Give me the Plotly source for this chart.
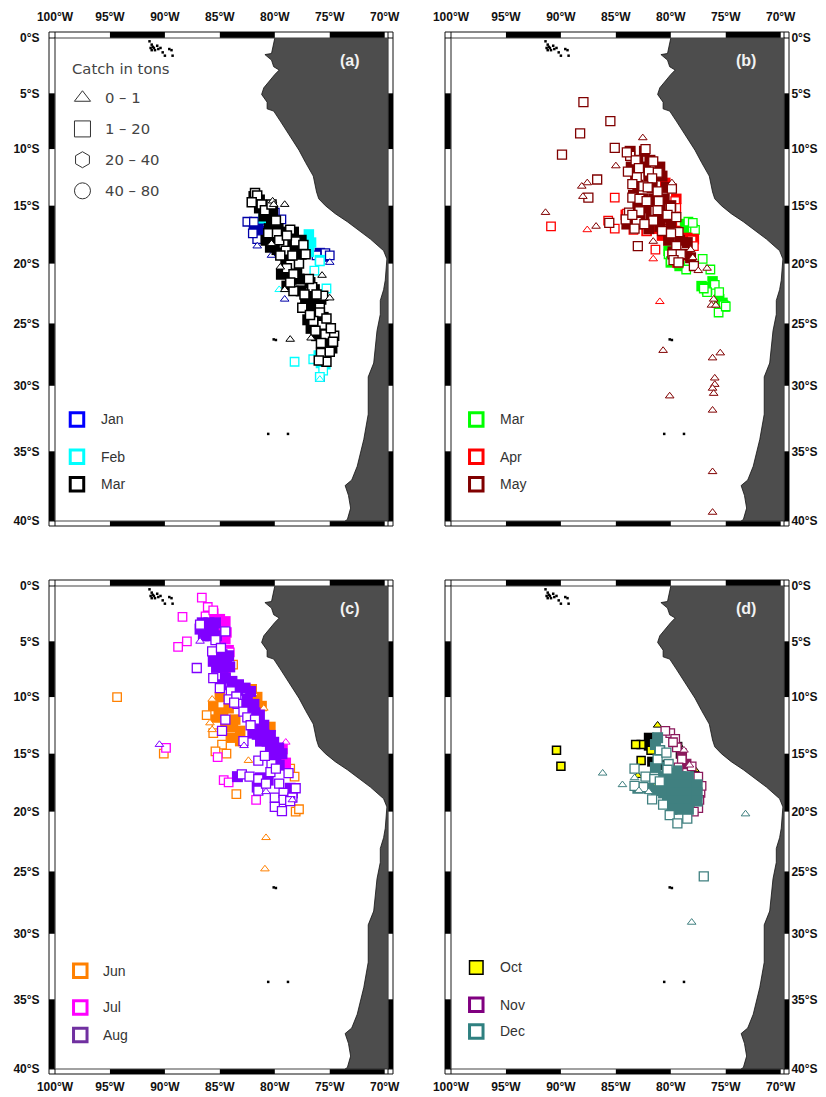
import math
import plotly.graph_objects as go

W, H = 826, 1097
LON_TICKS = [100, 95, 90, 85, 80, 75, 70]
LAT_TICKS = [0, 5, 10, 15, 20, 25, 30, 35, 40]

# Coast of South America, (deg W, deg S)
COAST = [(80.0,0),(80.1,.6),(80.3,1.4),(80.9,1.5),(80.3,2.0),(80.1,2.6),(79.6,2.9),(80.0,3.3),(80.4,3.75),(81.0,4.5),
 (81.2,5.1),(80.7,5.8),(80.7,6.4),(80.1,6.6),(79.5,7.5),(78.9,8.4),(78.3,9.3),(77.8,10.1),(77.2,11.2),(76.5,12.4),
 (76.2,13.8),(76.0,14.4),(75.4,15),(74.5,15.7),(73.4,16.4),(72.2,17.3),(71.3,17.9),(70.1,18.9),(69.8,19.6),(69.95,21.4),
 (70.1,22.2),(70.4,23.1),(70.4,24.25),(70.7,25.6),(71.0,28.2),(71.5,29.3),(71.5,30.6),(71.5,32.2),(71.9,34.1),(72.5,36.1),
 (73,37.1),(73.6,37.5),(73.3,38.2),(73.1,39.1),(73.4,39.9),(73.6,40),(69.0,40),(69.0,0)]
ISLANDS = [(91.4,.3),(91.2,.6),(91.0,.9),(91.2,1.1),(90.7,.7),(90.4,.9),(90.2,1.3),(89.6,1.0),(89.4,1.1),(90.0,1.6),
 (89.3,1.6),(91.1,.8),(90.9,1.1),(91.3,.9),(90.6,1.0),(80.1,26.3),(79.9,26.35),(80.6,33.7),(78.8,33.7)]

# Panel (a): white squares, solid overlap masses, triangles
JAN_SQ = [(82.5,16.4),(81.9,16.4),(80,15.6),(75.4,19.1),(75,19.3),(75.9,29.3),(81.6,17.9),(76.2,19.3),(80.8,15.9),(82,17.4),(79.4,16.2)]
JAN_SOLID = [(81.6,16.9),(81.9,17.2),(81,16.2),(75.9,19.1),(75.5,19.4),(81.2,17.5),(81.5,16.6),(81.4,17.2)]
JAN_TRI = [(80.3,19.3),(79.1,23),(75,19.9),(81.6,18.5)]
FEB_SQ = [(75.9,19.8),(76.4,20.6),(78.2,28.1),(76.5,27.9),(75.6,28.8),(75.9,29.3),(75.3,22.1),(76,22.7)]
FEB_SOLID = [(76.9,17.5),(76.7,18.2),(76.9,19),(75.9,19.7),(81,16.1),(80.4,16.5),(76,27.6),(75.8,28.2),(75.4,28.3)]
FEB_TRI = [(79.6,22.2),(75.9,29.5)]
MAR_SOLID = [(81.4,14.5),(80.7,15),(80.2,15.5),(81,15.9),(80.5,17),(79.7,17),(79,17.3),(78.3,17.3),(80,18),(79.2,18),
 (78.4,18),(79.8,18.8),(79,18.9),(78.2,18.9),(79,19.7),(78.2,19.7),(78.7,20.5),(78,20.5),(78.5,21.3),(77.8,21.3),
 (76.8,21.6),(76.4,22.2),(76.4,23),(75.8,23),(76.7,23.7),(76,24),(75.6,24.5),(76.4,24.6),(75.8,25.2),(75.2,25.5),
 (75.6,26),(74.9,26.2),(75.2,26.9),(74.8,27),(75.5,27.6),(81.9,14.2),(81.4,15.2),(80.3,16.2),(80.8,18),(80.4,18.6),
 (77.6,18),(77.6,19.2),(79.4,20.9),(78.9,21.9),(77.6,22.3),(77.2,23),(77,24.7),(76.2,26),(75.6,27),(76.7,25.4)]
MAR_SQ = [(81.8,13.9),(81.6,14.1),(82.1,14.7),(81.2,14.9),(80.9,15.4),(79.9,16.3),(80.6,17.4),(79.8,17.4),(78.6,17.1),
 (78.1,18.1),(79.2,18.3),(77.4,18.4),(79.0,18.9),(78.6,20.1),(77.8,20.0),(78.9,20.4),(78.3,20.9),(78.3,22.3),(76.6,22.0),
 (75.6,22.7),(77.5,23.7),(75.9,23.7),(75.9,24.1),(75.7,25.1),(76.3,25.6),(75.4,25.9),(74.6,26),(74.7,26.5),(75.8,27.4),
 (75,27.3),(75.3,28.1),(76.5,24.8),(80.3,14.9),(79.6,18),(78.9,17.6),(79.5,19.3),(78.4,19.3),(77.2,19.2),(78.6,21.6),
 (76.9,21.3),(76.2,22.6),(76.8,24.3),(75.3,24.6),(75.8,26.6),(76,28),(74.9,25.4),(77.3,22.6)]
MAR_TRI = [(80.2,14.6),(79.1,14.9),(80.3,18.3),(79.5,20.3),(75.7,21),(79.1,22.2),(78.6,26.3),(76.7,26.2),(75,22.9),(80.1,14.9)]

# Panel (b)
BMAR_SOLID = [(78.7,16.6),(78.4,17),(77.2,21.9),(76.9,22),(76.7,22.2),(75.3,23.3),(75.1,23.6),(80,19.9),(79.2,20.2),(80.2,18.9),(75.6,23),(76.2,21.5)]
BMAR_SQ = [(78.4,16.4),(78,17),(77.8,17.1),(77.1,19.6),(76.4,20.5),(76,21.8),(75.6,22.4),(76.7,22.4),(75.2,23.5),(75.65,24.1),
 (75,23.6),(78.6,20.5),(79.3,20),(80.2,19.2),(80,19.8),(78,16.5),(77,22.1)]
APR_SOLID = [(79.9,16.6),(79.6,17.2),(78.5,17.8),(78.1,18.2),(78.5,19.3),(80.5,13),(81.2,17),(82.2,17.2),(79.5,14.4),(79.6,15.3),(79.4,19.9),
 (77.9,17.9),(80.8,17.6),(84.1,15.8)]
APR_SQ = [(90.9,16.8),(85.1,14.3),(85.7,16.3),(85.1,17),(81.4,18.8),(84,15.7),(83.4,17.1),(79.6,14.6),(79.5,15.2),(78.1,18),
 (77.9,18.5),(82.2,17.2),(80.7,17)]
APR_TRI = [(81,23.2),(81.6,19.6),(87.6,17.1)]
MAY_SOLID = [(83.7,10.2),(82.4,10.2),(83,11),(81.9,11),(83.6,11.6),(82.3,11.6),(81,11.6),(83.2,12.4),(82,12.4),(80.8,12.4),
 (83,13.2),(81.7,13.4),(80.4,13.4),(83.4,14.1),(82.5,14.4),(81.5,14.4),(80.6,14.4),(83,15),(82,15.2),(81,15.2),(80,15),
 (83.7,15.9),(82.8,16),(81.8,16),(80.8,16),(84,16.6),(83,16.6),(82,17),(81,16.8),(80,16.6),(79.5,17.3),(80.2,18),(79.2,18),
 (78.5,18.2),(79.8,19),(78.8,19.2),(78.2,19.5),(79.3,19.6)]
MAY_SQ = [(87.95,5.8),(85.5,7.5),(88.25,8.6),(89.9,10.5),(85.1,9.9),(82.3,10),(83.7,10.6),(83.2,11),(82.9,11.7),(81.6,11.1),
 (81.2,12.1),(82,12),(83.1,12.5),(81.7,12.6),(86.7,12.7),(83.5,13.1),(82.5,13.3),(81.2,13.75),(79.9,13.5),(87.5,14.3),
 (83.5,14.3),(82.85,14.4),(82.2,14.6),(81.1,14.6),(80,15.2),(82.85,15.5),(81.4,15.45),(80.3,15.8),(85.6,16.5),(83.1,16.4),
 (81.6,16.3),(80.8,17.2),(79.3,17.3),(79.98,17.4),(83.3,17),(79.5,18.5),(83,18.5),(79.85,19.2),(79.1,19.2),(79.75,19.7),
 (79.3,19.9),(77.9,20.2),(79.5,16),(84,10.3),(83.9,12),(82.1,13.4),(83.8,15.6),(82.4,16.6),(81.2,15.4),(84.1,16.2),(83.5,15.8)]
MAY_TRI = [(82.55,9),(85,11.5),(87.6,13),(91.4,15.6),(86.8,16.8),(81.6,18.1),(79.9,13),(78.2,18.8),(78,19.5),(77.5,20.6),
 (76.7,20.4),(76.1,23),(76.3,23.5),(75.9,23.5),(80.7,27.2),(80.1,30.8),(76.2,27.8),(75.5,27.4),(76,29.4),(76,29.9),(76.2,30.2),
 (76.1,30.6),(76.2,31.9),(76.2,36.5),(76.2,39.4),(88.1,13.3),(88,14.2)]

# Panel (c)
JUN_SOLID = [(85.6,10.8),(85.1,11.4),(85.4,12),(84.7,11.4),(85,10),(84.7,12.65),(83.8,12.65),(83.15,13),(84,13.6),(83.15,13.9),
 (82.1,9.3),(81.6,10),(81.2,10.8),(80.4,12.65),(84.2,11),(83.6,12)]
JUN_SQ = [(86.2,11.6),(94.35,10),(90.1,15),(84.4,15),(83.5,18.5),(78.1,20),(77.8,19.8),(83.8,7.1),(85.3,12.6),(85.6,13.2),(84.8,14.2),
 (78.6,16.3),(78.2,17),(85.4,14.8)]
JUN_TRI = [(82.4,15.6),(85.7,10.2),(85.9,12.3),(85.7,12.9),(80.8,22.2),(80.9,24.8),(81.9,9.7),(81,11)]
JUL_SOLID = [(85.6,2.5),(85,3),(84.5,4.8),(84.2,5.8),(85.3,3.2),(84.7,3.9),(84.5,8.2),(79.3,14.6),(79,15.8),(84.5,3.2),(84.4,4.2)]
JUL_SQ = [(86.64,1.05),(86.1,1.9),(88.4,2.8),(88,5),(88.8,5.5),(86.3,2.75),(89.9,14.5),(85.2,15.3),(84.65,17.3),(81.7,19),
 (84.2,17.5),(84.1,6),(85.6,6.4),(85.6,2.2)]
JUL_TRI = [(79,14)]
AUG_SOLID = [(86.6,3.33),(86,3.33),(85.4,3.33),(86.8,3.9),(86.2,3.9),(85.6,3.9),(86.5,4.5),(85.9,4.5),(85.3,4.5),
 (85.4,6.2),(84.8,6.2),(84.2,6.3),(85.6,6.8),(85,6.8),(84.4,6.8),(85.3,7.35),(84.7,7.35),(84.1,7.3),
 (84.5,8.3),(83.9,8.6),(83.3,8.9),(82.7,9.2),(83.4,9.4),(82.5,10.2),(81.9,10.65),(82.7,11),(81.8,11.4),
 (81.6,12.65),(81,12.5),(81.6,13.3),(81,13.3),(80.4,13.4),(81.3,13.9),(80.7,13.9),(80.1,14),(79.65,14.5),(80.4,14.5),(79.35,15),
 (80,15.3),(81.3,17.1),(80.6,17.3),(78.6,18),(79.6,16),(84.9,8.9),(82.2,9.5),(81.4,11.6),(82,13.2),(79.9,15.8),(83.4,17),(81.6,17.9),(78.4,18.4)]
AUG_SQ = [(84.5,4.1),(85.7,5.9),(87.1,7.4),(85.6,8.3),(85,9.2),(84,9.5),(84.2,10.2),(83.5,9.95),(84.5,12),(84.8,13),
 (83.4,10.6),(82.85,11.3),(82.5,11.8),(81.8,12),(82.85,13.9),(81.5,15.6),(80.3,15.9),(80.4,16.6),(83,16.8),(82.3,17),
 (81.5,17.2),(78.75,16.7),(79.6,17.6),(81.5,18.2),(80.8,17.6),(78.1,18),(80,18.8),(79.2,18.4),(79.2,19),(78.4,18.8),
 (80,19.6),(79.35,19.95),(78.6,19.1),(86.8,3.5),(85.4,4.9),(84.9,5.6),(83.7,10.5),(82.2,12.5),(80.9,15.2),(79.9,16.3)]
AUG_TRI = [(90.5,14.2),(80.8,18.3),(78.4,19),(86.8,5),(82.8,14.3)]

# Panel (d)
OCT_SOLID = [(81,16),(81.7,15.7),(82,13.6),(82,14.3),(79.1,15),(79.4,14.4)]
OCT_SQ = [(90.4,14.7),(90,16.1),(82.7,14.2),(83.2,14.2),(82.7,15.6),(81.8,14.7),(81.3,17.7)]
OCT_TRI = [(81.2,12.5),(77.8,16.4),(79.3,14.2),(83,16.9)]
NOV_SQ = [(80.05,13.2),(79.6,13.7),(79.45,14.45),(79,15.5),(78.1,16.1),(77.5,17),(77.3,18.4),(77.5,19.7),(79.3,16.2),(80.5,13),
 (79.8,14),(77.2,17.8),(77.4,19),(77.9,20)]
NOV_SOLID = [(79,15),(78.6,15.9)]
NOV_TRI = [(78.8,14.7),(78.3,16)]
DEC_SOLID = [(80.66,17),(79.9,17),(79.14,17),(78.4,17),(80.66,17.7),(79.9,17.7),(79.14,17.7),(78.4,17.7),(77.6,17.7),
 (80.66,18.4),(79.9,18.4),(79.14,18.4),(78.4,18.4),(77.6,18.4),(80.3,19.1),(79.9,19.1),(79.14,19.1),(78.4,19.1),(77.6,19.1),
 (79.9,19.8),(79.14,19.8),(78.4,19.8),(81.4,14.2),(81,14.75),(81.4,16.2),(80.35,16.2),(79.45,16.5),(83,18),(82,18),(81.3,18.2),
 (81.2,13.6)]
DEC_SQ = [(83.3,16.3),(82.3,17),(81.5,17.2),(81.2,15.5),(81,14.7),(80.4,14.9),(80.2,15.9),(81.7,18.95),(80.7,19.4),(80.1,20.3),
 (79.4,21),(78.5,20.6),(82.5,17.9),(77,25.4),(83.3,17.8),(81,17.4),(80.3,16.4)]
DEC_TRI = [(86.2,16.7),(84.4,17.7),(73.2,20.2),(83.3,17.1),(82.9,18.2),(82,18.3),(78.1,29.1)]

# Legend keys and labels, (deg W, deg S)
SIZE_LABELS = ["0 – 1", "1 – 20", "20 – 40", "40 – 80"]
SIZE_KEY_LAT = [5.4, 8.2, 10.95, 13.7]
PANEL_TAGS = ["(a)", "(b)", "(c)", "(d)"]
MONTHS = [["Jan","Feb","Mar"],["Mar","Apr","May"],["Jun","Jul","Aug"],["Oct","Nov","Dec"]]
MONTH_COLORS = [["#0000ff","#00ffff","#000000"],["#00ff00","#ff0000","#800000"],["#ff8000","#ff00ff","#7030a0"],["#ffff00","#800080","#2f8080"]]
MONTH_KEY_LAT = [[32.6,35.4,37.4],[32.6,35.4,37.4],[32.85,35.6,37.6],[32.6,35.4,37.35]]
MONTH_KEY_LON = [98.0,97.7,97.7,97.7]
MONTH_TEXT_LON = [96.0,95.7,95.8,95.7]

def merc(lat):
    return math.degrees(math.log(math.tan(math.radians(45 + lat / 2))))

def xs(p): return [-a for a, _ in p]
def ys(p): return [-merc(b) for _, b in p]

PANELS = [(55, 38), (451, 38), (55, 586), (451, 586)]
PW, PH = 333, 483
RIGHT = -69.7
BOTTOM = -merc(40)

fig = go.Figure()
shapes, annos = [], []
layout = {}

def px(x): return x / W
def py(y): return 1 - y / H

TICK_FONT = dict(family="Liberation Sans", size=12, color="#111", weight="bold")

for i, (x0, y0) in enumerate(PANELS):
    sfx = "" if i == 0 else str(i + 1)
    lower, righty = i >= 2, i % 2 == 1
    layout["xaxis" + sfx] = dict(domain=[px(x0), px(x0 + PW)], range=[-100, RIGHT], anchor="y" + sfx, automargin=False,
        side="bottom" if lower else "top", tickvals=[-v for v in LON_TICKS], ticktext=[f"{v}°W" for v in LON_TICKS],
        ticks="outside", ticklen=7 if lower else 11, tickcolor="rgba(0,0,0,0)", showgrid=False, zeroline=False, showline=False,
        tickfont=TICK_FONT, fixedrange=True)
    layout["yaxis" + sfx] = dict(domain=[py(y0 + PH), py(y0)], range=[BOTTOM, 0], anchor="x" + sfx, automargin=False,
        side="right" if righty else "left", tickvals=[-merc(v) for v in LAT_TICKS], ticktext=[f"{v}°S" for v in LAT_TICKS],
        ticks="outside", ticklen=4 if righty else 12, tickcolor="rgba(0,0,0,0)", showgrid=False, zeroline=False, showline=False,
        tickfont=TICK_FONT, fixedrange=True)
    xa, ya = "x" + sfx, "y" + sfx
    fig.add_trace(go.Scatter(x=xs(COAST), y=ys(COAST), mode="lines", fill="toself", fillcolor="#4d4d4d",
        line=dict(color="#111", width=0.8), xaxis=xa, yaxis=ya, hoverinfo="skip"))
    fig.add_trace(go.Scatter(x=xs(ISLANDS), y=ys(ISLANDS), mode="markers", marker=dict(symbol="square", size=2.5, color="#000"),
        xaxis=xa, yaxis=ya, hoverinfo="skip"))
    # frame
    ox0, oy0, ox1, oy1 = x0 - 6, y0 - 6, x0 + PW + 5, y0 + PH + 5
    shapes.append(dict(type="rect", xref="paper", yref="paper", x0=px(ox0), x1=px(ox1), y0=py(oy1), y1=py(oy0),
        line=dict(color="#111", width=1), layer="above"))
    for a, b in [(95, 90), (85, 80), (75, 70)]:
        for t0, t1 in [(oy0, y0), (y0 + PH, oy1)]:
            shapes.append(dict(type="rect", xref=xa, yref="paper", x0=-a, x1=-b, y0=py(t1), y1=py(t0),
                fillcolor="#000", line_width=0, layer="above"))
    for a, b in [(5, 10), (15, 20), (25, 30), (35, 40)]:
        for t0, t1 in [(ox0, x0), (x0 + PW, ox1)]:
            shapes.append(dict(type="rect", xref="paper", yref=ya, x0=px(t0), x1=px(t1), y0=-merc(b), y1=-merc(a),
                fillcolor="#000", line_width=0, layer="above"))
    shapes.append(dict(type="rect", xref="paper", yref="paper", x0=px(x0), x1=px(x0 + PW), y0=py(y0 + PH), y1=py(y0),
        line=dict(color="#444", width=1.2), layer="above"))
    for sx in (x0, x0 + PW):
        for a, b in [(oy0, y0), (y0 + PH, oy1)]:
            shapes.append(dict(type="line", xref="paper", yref="paper", x0=px(sx), x1=px(sx), y0=py(a), y1=py(b),
                line=dict(color="#111", width=1), layer="above"))
    for sy in (y0, y0 + PH):
        for a, b in [(ox0, x0), (x0 + PW, ox1)]:
            shapes.append(dict(type="line", xref="paper", yref="paper", x0=px(a), x1=px(b), y0=py(sy), y1=py(sy),
                line=dict(color="#111", width=1), layer="above"))

def add_series(panel, color, sq, solid, tri, sq_size=8.5, lw=1.3, fill="#ffffff", tri_fill="#ffffff"):
    sfx = "" if panel == 0 else str(panel + 1)
    xa, ya = "x" + sfx, "y" + sfx
    if solid:
        fig.add_trace(go.Scatter(x=xs(solid), y=ys(solid), mode="markers", xaxis=xa, yaxis=ya, hoverinfo="skip",
            marker=dict(symbol="square", size=sq_size + 2, color=color, line=dict(color=color, width=0))))
    if sq:
        fig.add_trace(go.Scatter(x=xs(sq), y=ys(sq), mode="markers", xaxis=xa, yaxis=ya, hoverinfo="skip",
            marker=dict(symbol="square", size=sq_size, color=fill, line=dict(color=color, width=lw))))
    if tri:
        fig.add_trace(go.Scatter(x=xs(tri), y=ys(tri), mode="markers", xaxis=xa, yaxis=ya, hoverinfo="skip",
            marker=dict(symbol="triangle-up", size=7.5, color=tri_fill, line=dict(color=color, width=1))))

add_series(0, "#0000a8", JAN_SQ, JAN_SOLID, JAN_TRI)
add_series(0, "#00ffff", FEB_SQ, FEB_SOLID, FEB_TRI)
add_series(0, "#000000", MAR_SQ, MAR_SOLID, MAR_TRI, sq_size=9, lw=1.5)
add_series(1, "#00ff00", BMAR_SQ, BMAR_SOLID, [])
add_series(1, "#ff0000", APR_SQ, APR_SOLID, APR_TRI)
add_series(1, "#800000", MAY_SQ, MAY_SOLID, MAY_TRI, sq_size=9, lw=1.3)
add_series(2, "#ff8000", JUN_SQ, JUN_SOLID, JUN_TRI)
add_series(2, "#ff00ff", JUL_SQ, JUL_SOLID, JUL_TRI)
add_series(2, "#8000ff", AUG_SQ, AUG_SOLID, AUG_TRI, sq_size=9, lw=1.3)
add_series(3, "#000000", OCT_SQ, OCT_SOLID, OCT_TRI, sq_size=8, lw=1.5, fill="#ffff00", tri_fill="#ffff00")
add_series(3, "#8b1a5c", NOV_SQ, NOV_SOLID, NOV_TRI)
add_series(3, "#408080", DEC_SQ, DEC_SOLID, DEC_TRI, sq_size=9, lw=1.3)

# catch-size key in panel (a)
for sym, lat, lab in zip(["triangle-up", "square", "hexagon", "circle"], SIZE_KEY_LAT, SIZE_LABELS):
    fig.add_trace(go.Scatter(x=[-97.5], y=[-merc(lat)], mode="markers", hoverinfo="skip",
        marker=dict(symbol=sym, size=14 if sym == "triangle-up" else 16, color="rgba(0,0,0,0)", line=dict(color="#333", width=1))))
    annos.append(dict(x=-95.65, y=-merc(lat), xref="x", yref="y", text=lab, showarrow=False, xanchor="left",
        font=dict(family="DejaVu Sans", size=14.8, color="#444")))
annos.append(dict(x=-98.6, y=-merc(2.8), xref="x", yref="y", text="Catch in tons", showarrow=False, xanchor="left",
    font=dict(family="DejaVu Sans", size=14.8, color="#444")))

for i in range(4):
    sfx = "" if i == 0 else str(i + 1)
    xa, ya = "x" + sfx, "y" + sfx
    for name, col, lat in zip(MONTHS[i], MONTH_COLORS[i], MONTH_KEY_LAT[i]):
        yellow = name == "Oct"
        fig.add_trace(go.Scatter(x=[-MONTH_KEY_LON[i]], y=[-merc(lat)], mode="markers", xaxis=xa, yaxis=ya, hoverinfo="skip",
            marker=dict(symbol="square", size=13.5, color=col if yellow else "#ffffff",
                        line=dict(color="#000" if yellow else col, width=1.5 if yellow else 3))))
        annos.append(dict(x=-MONTH_TEXT_LON[i], y=-merc(lat), xref=xa, yref=ya, text=name, showarrow=False, xanchor="left",
            font=dict(family="Liberation Sans", size=14, color="#333")))
    annos.append(dict(x=-73.2, y=-merc(2.0), xref=xa, yref=ya, text="<b>" + PANEL_TAGS[i] + "</b>", showarrow=False,
        font=dict(family="Liberation Sans", size=16, color="#f2f2f2")))

fig.update_layout(width=W, height=H, margin=dict(l=0, r=0, t=0, b=0, autoexpand=False), showlegend=False, plot_bgcolor="#ffffff",
                  paper_bgcolor="#ffffff", shapes=shapes, annotations=annos, **layout)
fig.write_html("out.html", post_script="document.body.style.margin='0';", config=dict(displayModeBar=False))
